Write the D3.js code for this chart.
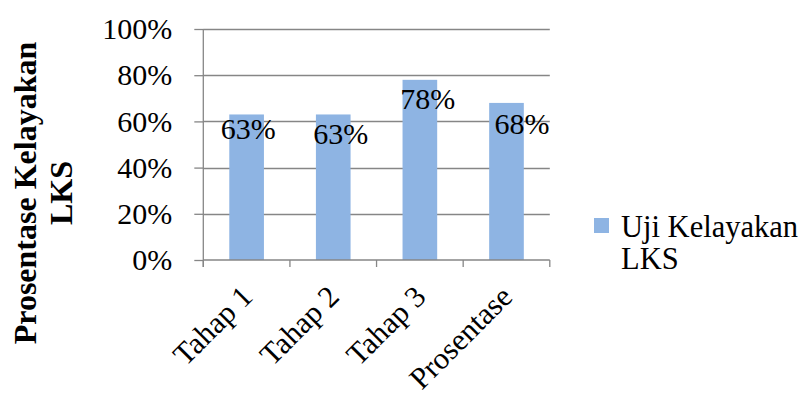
<!DOCTYPE html>
<html>
<head>
<meta charset="utf-8">
<script src="https://cdn.jsdelivr.net/npm/d3@7/dist/d3.min.js"></script>
</head>
<body style="margin:0;padding:0;background:#fff">
<svg id="chart" width="806" height="397" style="display:block"></svg>
<script>
// Chart data
const categories = ["Tahap 1", "Tahap 2", "Tahap 3", "Prosentase"];
const values = [0.63, 0.63, 0.78, 0.68];
const yTicks = [0, 0.2, 0.4, 0.6, 0.8, 1.0];
const seriesName = ["Uji Kelayakan", "LKS"];
const axisTitle = ["Prosentase Kelayakan", "LKS"];

const W = 806, H = 397;
const plot = { left: 203.3, right: 549.8, top: 29, bottom: 260 };
const barColor = "#8EB4E3";
const gridColor = "#868686";
const FONT = "Liberation Serif";
const fontSize = 30;

const svg = d3.select("#chart");
svg.append("rect").attr("width", W).attr("height", H).attr("fill", "#fff");

const y = d3.scaleLinear().domain([0, 1]).range([plot.bottom, plot.top]);
const x = d3.scaleBand().domain(categories)
  .range([plot.left, plot.right])
  .paddingInner(0.6).paddingOuter(0.3);

const fmt = d3.format(".0%");

// horizontal gridlines (excluding baseline)
svg.append("g").selectAll("line").data(yTicks.filter(d => d > 0)).join("line")
  .attr("x1", plot.left).attr("x2", plot.right)
  .attr("y1", d => Math.round(y(d)) + 0.5).attr("y2", d => Math.round(y(d)) + 0.5)
  .attr("stroke", gridColor).attr("stroke-width", 1.3);

// bars
svg.append("g").selectAll("rect").data(values).join("rect")
  .attr("x", (d, i) => x(categories[i]))
  .attr("width", x.bandwidth())
  .attr("y", d => y(d))
  .attr("height", d => y(0) - y(d))
  .attr("fill", barColor);

// y axis
const yAxis = d3.axisLeft(y).tickValues(yTicks).tickFormat(fmt).tickSize(9).tickPadding(22);
const gy = svg.append("g").attr("transform", `translate(${plot.left},0)`).call(yAxis);
gy.select(".domain").remove();
gy.selectAll(".tick line").attr("stroke", gridColor).attr("stroke-width", 1.3);
gy.selectAll(".tick text").attr("fill", "#000");
svg.append("line")
  .attr("x1", plot.left).attr("x2", plot.left)
  .attr("y1", plot.top).attr("y2", plot.bottom + 7)
  .attr("stroke", gridColor).attr("stroke-width", 1.3);

// x axis with tick marks at category boundaries
svg.append("line")
  .attr("x1", plot.left).attr("x2", plot.right)
  .attr("y1", plot.bottom).attr("y2", plot.bottom)
  .attr("stroke", gridColor).attr("stroke-width", 1.3);
const bounds = d3.range(categories.length + 1).map(i => plot.left + (plot.right - plot.left) * i / categories.length);
svg.append("g").selectAll("line").data(bounds).join("line")
  .attr("x1", d => d).attr("x2", d => d)
  .attr("y1", plot.bottom).attr("y2", plot.bottom + 7)
  .attr("stroke", gridColor).attr("stroke-width", 1.3);

// rotated category labels
svg.append("g").selectAll("text").data(categories).join("text")
  .attr("class", "cat")
  .attr("transform", d => `translate(${x(d) + x.bandwidth() / 2},291) rotate(-45)`)
  .attr("text-anchor", "end")
  .attr("dy", "0.35em")
  .text(d => d);

// value labels (hand-placed offsets relative to the bar top/centre)
const labelShift = [[1.7, 25], [7.4, 30], [7.8, 29.3], [15.5, 30.6]];
svg.append("g").selectAll("text").data(values).join("text")
  .attr("x", (d, i) => x(categories[i]) + x.bandwidth() / 2 + labelShift[i][0])
  .attr("y", (d, i) => y(d) + labelShift[i][1])
  .attr("text-anchor", "middle")
  .text(d => fmt(d));

// y axis title
const title = svg.append("text")
  .attr("class", "title")
  .attr("transform", "translate(36,193) rotate(-90)")
  .attr("text-anchor", "middle");
axisTitle.forEach((t, i) => title.append("tspan").attr("x", 0).attr("y", i * 36).text(t));

// legend
const lg = svg.append("g");
lg.append("rect").attr("x", 594).attr("y", 218).attr("width", 15).attr("height", 15).attr("fill", barColor);
const lt = lg.append("text").attr("class", "legend");
seriesName.forEach((t, i) => lt.append("tspan").attr("x", 621).attr("y", 237 + i * 31.5).text(t));

// typography for every text element
svg.selectAll("text")
  .style("font-family", FONT)
  .style("font-size", fontSize + "px")
  .style("fill", "#000");
svg.selectAll("text.cat").style("font-size", "30.5px");
svg.select("text.title").style("font-size", "32px").style("font-weight", "bold");
svg.select("text.legend").style("font-size", "30.5px");
</script>
</body>
</html>
